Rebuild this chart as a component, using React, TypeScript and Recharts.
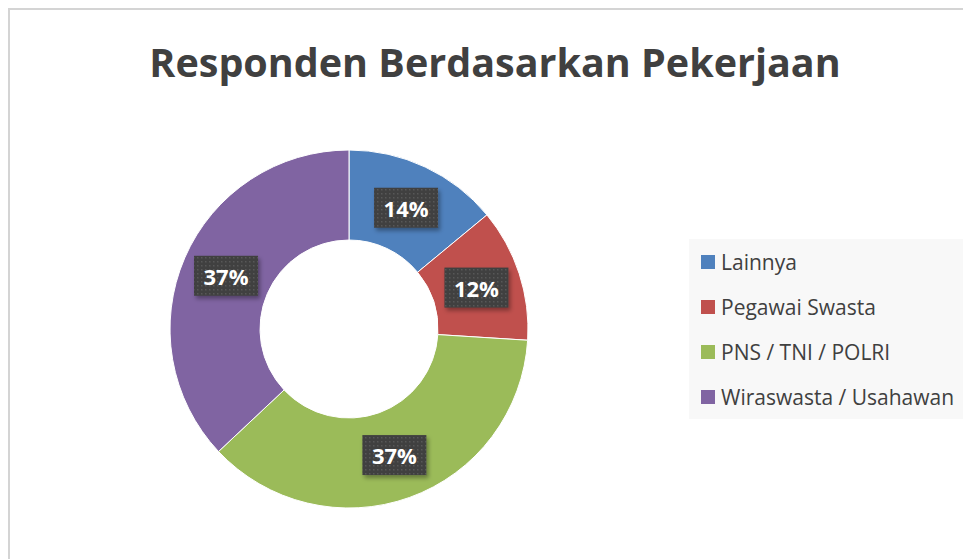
import React from 'react';
import { PieChart, Pie, Cell, Legend } from 'recharts';

const categories = ['Lainnya', 'Pegawai Swasta', 'PNS / TNI / POLRI', 'Wiraswasta / Usahawan'];
const shares = [14, 12, 37, 37];
const colors = ['#4F81BD', '#C0504D', '#9BBB59', '#8064A2'];

const data = categories.map((name, i) => ({ name, value: shares[i] }));

const RADIAN = Math.PI / 180;
const font = '"Open Sans", "Noto Sans", sans-serif';

const renderLabel = (props: any) => {
  const { cx, cy, midAngle, innerRadius, outerRadius, value } = props;
  const r = (innerRadius + outerRadius) / 2;
  const x = cx + r * Math.cos(-midAngle * RADIAN);
  const y = cy + r * Math.sin(-midAngle * RADIAN);
  const w = 64;
  const h = 40;
  return (
    <g>
      <defs>
        <pattern id="dotPat" width="4" height="4" patternUnits="userSpaceOnUse">
          <rect width="4" height="4" fill="#3f3f3f" />
          <rect x="1" y="1" width="1.5" height="1.5" fill="#585858" />
        </pattern>
        <filter id="lblShadow" x="-20%" y="-20%" width="150%" height="160%">
          <feDropShadow dx="2" dy="3" stdDeviation="2" floodColor="#000" floodOpacity="0.35" />
        </filter>
      </defs>
      <rect x={x - w / 2} y={y - h / 2} width={w} height={h} fill="url(#dotPat)" filter="url(#lblShadow)" />
      <text
        x={x}
        y={y}
        fill="#ffffff"
        textAnchor="middle"
        dominantBaseline="central"
        style={{ fontFamily: font, fontSize: 22, fontWeight: 700 }}
      >
        {value}%
      </text>
    </g>
  );
};

const renderLegend = () => (
  <div
    style={{
      width: 278,
      height: 180,
      background: '#f8f8f8',
      position: 'relative',
      fontFamily: font,
      fontSize: 21,
      color: '#404040',
    }}
  >
    {categories.map((c, i) => (
      <div
        key={c}
        style={{
          position: 'absolute',
          left: 12,
          top: 23 + i * 45 - 15,
          height: 30,
          display: 'flex',
          alignItems: 'center',
          whiteSpace: 'nowrap',
        }}
      >
        <span style={{ display: 'inline-block', width: 14, height: 14, background: colors[i], marginRight: 6 }} />
        <span>{c}</span>
      </div>
    ))}
  </div>
);

export default function App() {
  return (
    <div style={{ position: 'relative', width: 963, height: 551 }}>
      <div
        style={{
          position: 'absolute',
          left: 0,
          top: 0,
          width: 963,
          height: 551,
          boxSizing: 'border-box',
          borderTop: '2px solid #d4d4d4',
          borderLeft: '2px solid #d4d4d4',
        }}
      />
      <div
        style={{
          position: 'absolute',
          left: 0,
          top: 28,
          width: 974,
          textAlign: 'center',
          fontFamily: font,
          fontSize: 39.5,
          fontWeight: 700,
          color: '#404040',
          lineHeight: '52px',
        }}
      >
        Responden Berdasarkan Pekerjaan
      </div>
      <div style={{ position: 'absolute', left: 0, top: 0 }}>
        <PieChart width={963} height={551} margin={{ top: 0, right: 0, bottom: 0, left: 0 }}>
          <Pie
            data={data}
            dataKey="value"
            nameKey="name"
            cx={341}
            cy={321}
            innerRadius={89}
            outerRadius={179}
            startAngle={90}
            endAngle={-270}
            stroke="#ffffff"
            strokeWidth={1}
            label={renderLabel}
            labelLine={false}
            isAnimationActive={false}
          >
            {data.map((d, i) => (
              <Cell key={d.name} fill={colors[i]} />
            ))}
          </Pie>
          <Legend
            content={renderLegend}
            layout="vertical"
            wrapperStyle={{ left: 681, top: 231, width: 278, height: 180 }}
          />
        </PieChart>
      </div>
    </div>
  );
}
